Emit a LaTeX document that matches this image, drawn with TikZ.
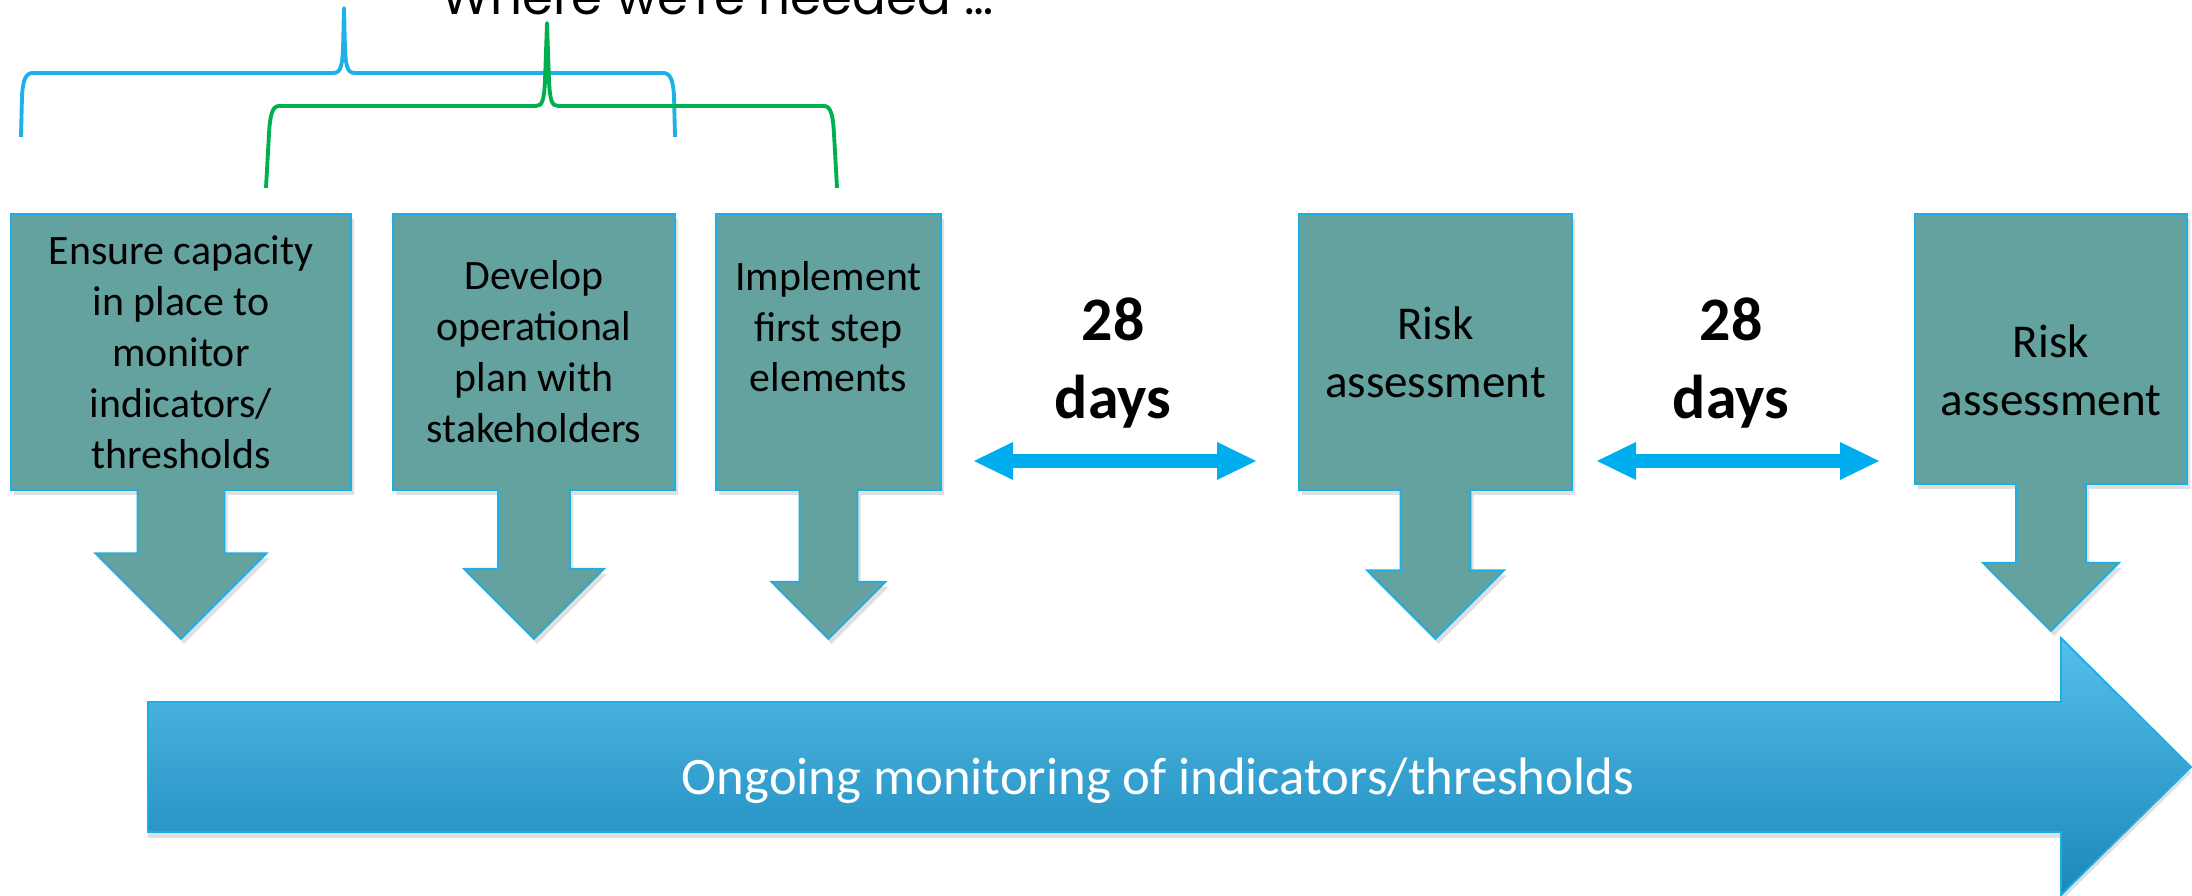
\documentclass[tikz,border=0pt]{standalone}
\usepackage{fontspec}
\setmainfont{Carlito}
\newfontfamily\titlefont{Poppins}
\usepackage{tikz}
\usetikzlibrary{shapes}
\usetikzlibrary{shapes.arrows}
\usetikzlibrary{arrows.meta}
\usetikzlibrary{shadows}

\definecolor{boxfill}{RGB}{99,162,158}
\definecolor{boxline}{RGB}{28,174,228}
\definecolor{spanblue}{RGB}{0,174,239}
\definecolor{braceblue}{RGB}{30,177,230}
\definecolor{bracegreen}{RGB}{0,176,80}
\definecolor{bandtop}{RGB}{86,190,233}
\definecolor{bandbottom}{RGB}{26,136,186}

\tikzset{
  stepbox/.style={arrow box, draw=boxline, line width=0.5pt, fill=boxfill,
    arrow box arrows={south:1.48cm}, arrow box tip angle=90,
    align=center, inner sep=0pt, text=black,
    drop shadow={shadow xshift=0.03cm, shadow yshift=-0.05cm, opacity=0.25},
    font=\fontsize{11.9}{14.5}\selectfont},
  riskbox/.style={stepbox, font=\fontsize{13.4}{16.5}\selectfont},
  spanarrow/.style={spanblue, line width=0.14cm,
    {Triangle[length=0.39cm, width=0.38cm, line width=0pt]}-{Triangle[length=0.39cm, width=0.38cm, line width=0pt]}},
  daysgap/.style={align=center, font=\fontsize{17.6}{22.2}\selectfont\bfseries},
  bracket/.style={line width=1.1pt, line join=round}
}

\begin{document}
\begin{tikzpicture}
\useasboundingbox (0,0) rectangle (21.92,8.96);
\clip (0,0) rectangle (21.92,8.96);

% heading, cut off at the top
\node[anchor=base, font=\titlefont\fontsize{14.2}{16}\selectfont] (title) at (7.175,8.81)
  {Where we're needed \ldots};

% brackets
\draw[bracket, braceblue] (0.21,7.59) -- (0.22,8.00)
  .. controls (0.23,8.17) and (0.26,8.23) .. (0.33,8.23) -- (3.33,8.23)
  .. controls (3.40,8.23) and (3.42,8.28) .. (3.43,8.46) -- (3.44,8.88)
  -- (3.45,8.46) .. controls (3.46,8.28) and (3.48,8.23) .. (3.55,8.23)
  -- (6.63,8.23) .. controls (6.70,8.23) and (6.73,8.17) .. (6.74,8.00)
  -- (6.75,7.59);
\draw[bracket, bracegreen] (2.66,7.08) -- (2.69,7.62)
  .. controls (2.70,7.80) and (2.72,7.90) .. (2.79,7.90) -- (5.36,7.90)
  .. controls (5.42,7.90) and (5.44,7.95) .. (5.45,8.15) -- (5.47,8.73)
  -- (5.49,8.15) .. controls (5.50,7.95) and (5.52,7.90) .. (5.58,7.90)
  -- (8.24,7.90) .. controls (8.31,7.90) and (8.33,7.80) .. (8.34,7.62)
  -- (8.37,7.08);

% steps
\node[stepbox, minimum width=3.40cm, minimum height=2.76cm,
  arrow box shaft width=0.87cm, arrow box head extend=0.42cm] (capacity) at (1.81,5.44)
  {Ensure capacity\\in place to\\monitor\\indicators/\\thresholds};
\node[stepbox, minimum width=2.82cm, minimum height=2.76cm,
  arrow box shaft width=0.72cm, arrow box head extend=0.34cm] (plan) at (5.34,5.44)
  {Develop\\operational\\plan with\\stakeholders};
\node[stepbox, minimum width=2.25cm, minimum height=2.76cm,
  arrow box shaft width=0.58cm, arrow box head extend=0.28cm] (implement) at (8.285,5.44)
  {Implement\\first step\\elements\\\mbox{}};
\node[riskbox, minimum width=2.73cm, minimum height=2.76cm,
  arrow box shaft width=0.70cm, arrow box head extend=0.335cm] (risk1) at (14.355,5.44)
  {Risk\\assessment};
\node[riskbox, minimum width=2.72cm, minimum height=2.70cm,
  arrow box arrows={south:1.46cm},
  arrow box shaft width=0.70cm, arrow box head extend=0.33cm] (risk2) at (20.51,5.47)
  {\mbox{}\\[0.18cm]Risk\\assessment};

% 28 days between the steps
\node[daysgap] (days1) at (11.13,5.33) {28\\days};
\node[daysgap] (days2) at (17.31,5.33) {28\\days};
\coordinate (span1a) at (9.74,4.35);
\coordinate (span1b) at (12.56,4.35);
\coordinate (span2a) at (15.97,4.35);
\coordinate (span2b) at (18.79,4.35);
\draw[spanarrow] (span1a) -- (span1b);
\draw[spanarrow] (span2a) -- (span2b);

% ongoing monitoring band
\path[draw=boxline, line width=0.5pt, top color=bandtop, bottom color=bandbottom,
  drop shadow={shadow xshift=0cm, shadow yshift=-0.06cm, opacity=0.25}]
  (1.48,1.94) -- (20.61,1.94) -- (20.61,2.58) -- (21.91,1.29)
  -- (20.61,0.01) -- (20.61,0.64) -- (1.48,0.64) -- cycle;
\node[anchor=base, text=white, font=\fontsize{15}{18}\selectfont] (monitor) at (11.58,1.01)
  {Ongoing monitoring of indicators/thresholds};
\end{tikzpicture}
\end{document}
